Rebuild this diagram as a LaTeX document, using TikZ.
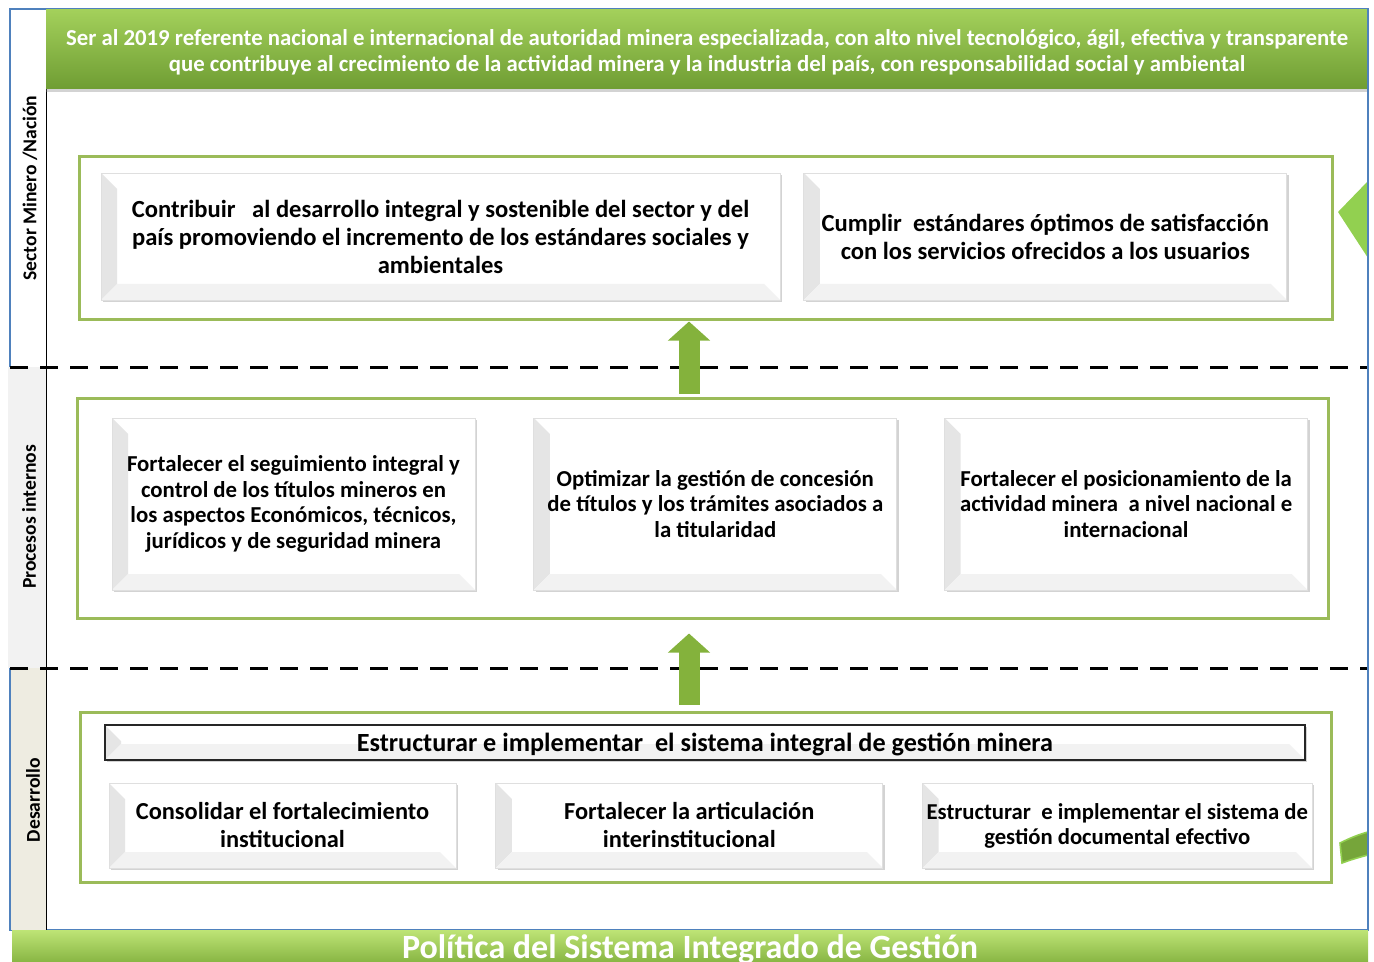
\documentclass[tikz,border=0pt]{standalone}
\usepackage{fontspec}
\setmainfont{Carlito}
\usepackage{tikz}
\usetikzlibrary{positioning, arrows.meta, shadows, calc}
\definecolor{grpgreen}{HTML}{9BBB59}
\definecolor{frameblue}{HTML}{4F81BD}
\definecolor{arrgreen}{HTML}{84B23C}
\definecolor{lanegray}{HTML}{F2F2F2}
\definecolor{lanebeige}{HTML}{EEECE1}
\definecolor{bantop}{HTML}{A3D05B}
\definecolor{banbot}{HTML}{6F9D33}
\definecolor{poltop}{HTML}{BEE476}
\definecolor{polbot}{HTML}{7EAD3A}
\definecolor{chevgreen}{HTML}{92D050}
\definecolor{curvgreen}{HTML}{76A53A}

\tikzset{
 grp/.style={draw=grpgreen, line width=1.5pt, inner sep=0pt},
 bevel/.style={rectangle, fill=white, draw=gray!25, line width=0.4pt, align=center, inner sep=2pt,
  drop shadow={shadow xshift=1pt, shadow yshift=-1.2pt, opacity=.35},
  path picture={
   \fill[gray!20] (path picture bounding box.south west) -- (path picture bounding box.north west)
    -- ++(8pt,-8pt) -- ($(path picture bounding box.south west)+(8pt,8pt)$) -- cycle;
   \fill[gray!10] (path picture bounding box.south west) -- (path picture bounding box.south east)
    -- ++(-8pt,8pt) -- ($(path picture bounding box.south west)+(8pt,8pt)$) -- cycle;}},
 barbox/.style={bevel, draw=black!85, line width=0.8pt},
 lane/.style={rotate=90, font=\fontsize{9.8}{11}\selectfont\bfseries},
 banner/.style={top color=bantop, bottom color=banbot, text=white, align=center,
  drop shadow={shadow xshift=0pt, shadow yshift=-1.5pt, opacity=.35}},
 uparrow/.style={arrgreen, line width=10.5pt, -{Triangle[length=9.5pt,width=20.5pt]}},
 dashline/.style={line width=1.5pt, dash pattern=on 9pt off 6pt},
}

\begin{document}
\begin{tikzpicture}[x=0.5pt, y=-0.5pt]
\useasboundingbox (0,0) rectangle (1374,962);

% marco y franjas
\draw[frameblue, line width=0.6pt] (10,9) rectangle (1368,930);
\fill[lanegray] (8,367) rectangle (46,668);
\fill[lanebeige] (11,668) rectangle (46,930);
\draw[line width=0.5pt] (46,9) -- (46,930);
\node[lane] (sec) at (30,188) {Sector Minero /Nación};
\node[lane] (proc) at (29,517) {Procesos internos};
\node[lane] (des) at (33,800) {Desarrollo};

\node[banner, minimum width=661pt, minimum height=39.5pt] (vision) at (707,49.5) {};
\node[text=white, align=center, font=\fontsize{11.4}{13}\selectfont\bfseries] (visiontxt) at (707,52.5)
 {Ser al 2019 referente nacional e internacional de autoridad minera especializada, con alto nivel tecnológico, ágil, efectiva y transparente\\
  que contribuye al crecimiento de la actividad minera y la industria del país, con responsabilidad social y ambiental};

\draw[dashline] (10,367) -- (1368,367);
\draw[dashline] (10,668) -- (1368,668);

% sector minero / nacion
\node[grp, minimum width=626.5pt, minimum height=81.5pt] (grp1) at (705.5,238.5) {};
\node[bevel, minimum width=339.5pt, minimum height=63.5pt, font=\fontsize{12.3}{14}\selectfont\bfseries] (contrib) at (440.5,236.5)
 {Contribuir\ \ \ al desarrollo integral y sostenible del sector y del\\
  país promoviendo el incremento de los estándares sociales y\\ ambientales};
\node[bevel, right=11.5pt of contrib, minimum width=241.5pt, minimum height=63.5pt, font=\fontsize{12.3}{14}\selectfont\bfseries] (cumplir)
 {Cumplir\ \ estándares óptimos de satisfacción\\ con los servicios ofrecidos a los usuarios};

% procesos internos
\node[grp, minimum width=625.5pt, minimum height=110pt] (grp2) at (702.5,508) {};
\node[bevel, minimum width=181.5pt, minimum height=86pt, font=\fontsize{11.4}{12.75}\selectfont\bfseries] (seguim) at (293.5,504)
 {Fortalecer el seguimiento integral y\\ control de los títulos mineros en\\
  los aspectos Económicos, técnicos,\\ jurídicos y de seguridad minera};
\node[bevel, right=29pt of seguim, minimum width=181.5pt, minimum height=86pt, font=\fontsize{11.4}{12.75}\selectfont\bfseries] (optim)
 {Optimizar la gestión de concesión\\ de títulos y los trámites asociados a\\ la titularidad};
\node[bevel, right=23.5pt of optim, minimum width=181.5pt, minimum height=86pt, font=\fontsize{11.4}{12.75}\selectfont\bfseries] (posic)
 {Fortalecer el posicionamiento de la\\ actividad minera\ \ a nivel nacional e\\ internacional};

% desarrollo
\node[grp, minimum width=625.5pt, minimum height=85pt] (grp3) at (705.5,797) {};
\node[barbox, minimum width=600pt, minimum height=17.5pt, inner sep=0pt, text depth=0pt, font=\fontsize{13.1}{14}\selectfont\bfseries] (sistema) at (705,742.5)
 {Estructurar e implementar\ \ el sistema integral de gestión minera};
\node[bevel, minimum width=173.5pt, minimum height=42.5pt, font=\fontsize{12.2}{14}\selectfont\bfseries] (consol) at (282.5,825.5)
 {Consolidar el fortalecimiento\\ institucional};
\node[bevel, right=19.5pt of consol, minimum width=193.5pt, minimum height=42.5pt, font=\fontsize{12.2}{14}\selectfont\bfseries] (articul)
 {Fortalecer la articulación\\ interinstitucional};
\node[bevel, right=19.5pt of articul, minimum width=193.5pt, minimum height=42.5pt, font=\fontsize{11.35}{12.5}\selectfont\bfseries] (docum)
 {Estructurar\ \ e implementar el sistema de\\ gestión documental efectivo};

\node[top color=poltop, bottom color=polbot, minimum width=678pt, minimum height=19pt, inner sep=0pt,
 text=white, font=\fontsize{17}{19}\selectfont\bfseries] (politica) at (690,949) {Política del Sistema Integrado de Gestión};

\coordinate (ax) at (689,0);
\draw[uparrow, shorten <=1.5pt] (grp2.north -| ax) -- (grp1.south -| ax);
\draw[uparrow, shorten <=3pt, shorten >=7pt] (grp3.north -| ax) -- (grp2.south -| ax);

\fill[chevgreen] (1338,212) -- (1368,181) -- (1368,258) -- cycle;
\filldraw[fill=curvgreen, draw=chevgreen, line width=0.8pt] (1340,843) .. controls (1350,838) and (1360,834) .. (1368,832)
 -- (1368,855) .. controls (1360,857) and (1350,860) .. (1342,863) -- cycle;
\draw[frameblue, line width=0.6pt] (1368,9) -- (1368,930);
\end{tikzpicture}
\end{document}
